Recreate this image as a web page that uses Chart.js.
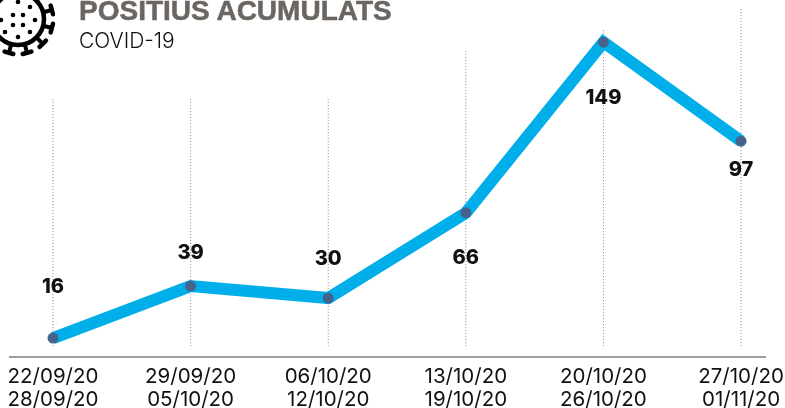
<!DOCTYPE html>
<html>
<head>
<meta charset="utf-8">
<script src="https://cdn.jsdelivr.net/npm/chart.js@4"></script>
<style>
    body { margin: 0; background: #fff; overflow: hidden; }
    #wrap { position: relative; width: 785px; height: 408px; overflow: hidden; }
    canvas { position: absolute; left: 0; top: 0; }
    #title { position: absolute; left: 79px; top: -5px; font: 700 28px "Liberation Sans", sans-serif; color: #6b6661; -webkit-text-stroke: 0.5px #6b6661; white-space: nowrap; }
    #subtitle { position: absolute; left: 79px; top: 28px; font: 300 21px Inter, sans-serif; color: #111; white-space: nowrap; }
    #virus { position: absolute; left: 0; top: 0; }
</style>
</head>
<body>
<div id="wrap">
    <canvas id="chart" width="785" height="408"></canvas>
    <svg id="virus" width="60" height="62" viewBox="0 0 60 62"></svg>
    <div id="title">POSITIUS ACUMULATS</div>
    <div id="subtitle">COVID-19</div>
</div>
<script>
const dateRanges = [
    ["22/09/20", "28/09/20"],
    ["29/09/20", "05/10/20"],
    ["06/10/20", "12/10/20"],
    ["13/10/20", "19/10/20"],
    ["20/10/20", "26/10/20"],
    ["27/10/20", "01/11/20"]
];
// numbers printed on the chart
const printedValues = [16, 39, 30, 66, 149, 97];
// height of each point as drawn in the picture, the original line does not quite follow its own labels
const drawnValues = [16, 39.4, 34, 72.3, 149, 104.5];
// where each dotted guide stops at the top
const guideTops = [123.8, 123.8, 123.8, 145.8, 154.8, 164.7];
const guideBase = 12.4;

const labelOffsets = [-52, -34, -40, 44, 55, 28];

const valueLabels = {
    id: 'valueLabels',
    afterDatasetsDraw(chart) {
        const ctx = chart.ctx;
        const points = chart.getDatasetMeta(0).data;
        ctx.save();
        ctx.font = '800 20px Inter, sans-serif';
        ctx.fillStyle = '#111';
        ctx.textAlign = 'center';
        ctx.textBaseline = 'middle';
        points.forEach((p, i) => {
            ctx.fillText(printedValues[i], p.x, p.y + labelOffsets[i] + 1);
        });
        ctx.restore();
    }
};

const guides = guideTops.map((top, i) => ({
    data: [{ x: i, y: guideBase }, { x: i, y: top }],
    borderColor: '#8c8c8c',
    borderWidth: 1,
    borderDash: [1, 2],
    pointRadius: 0,
    order: 1
}));

new Chart(document.getElementById('chart').getContext('2d'), {
    type: 'line',
    data: {
        datasets: [
            {
                data: drawnValues.map((v, i) => ({ x: i, y: v })),
                borderColor: '#00aeea',
                borderWidth: 12,
                pointRadius: 5.5,
                pointBackgroundColor: '#44648c',
                pointBorderWidth: 0,
                order: 0
            },
            ...guides
        ]
    },
    options: {
        responsive: false,
        animation: false,
        layout: { padding: { left: 10, right: 20, top: 0, bottom: 0 } },
        plugins: { legend: { display: false }, tooltip: { enabled: false } },
        scales: {
            x: {
                type: 'linear',
                min: -0.3125,
                max: 5.174,
                afterBuildTicks(scale) {
                    scale.ticks = dateRanges.map((d, i) => ({ value: i }));
                },
                afterFit(scale) {
                    scale.height = 51;
                },
                grid: { display: false },
                border: { display: true, color: '#a09c97', width: 2 },
                ticks: {
                    autoSkip: false,
                    maxRotation: 0,
                    padding: 0,
                    color: '#111',
                    font: { family: 'Inter', size: 20.5, lineHeight: 1.12 },
                    callback: (value) => dateRanges[value]
                }
            },
            y: { display: false, min: 7.5, max: 165.5 }
        }
    },
    plugins: [valueLabels]
});

// virus icon
const svg = document.getElementById('virus');
let icon = '<circle cx="18" cy="19" r="26" fill="none" stroke="#000" stroke-width="4.5"/>';
[-75, -45, -15, 15, 45, 75, 105, 135].forEach(a => {
    icon += `<g transform="rotate(${a} 18 19)"><line x1="44" y1="19" x2="52" y2="19" stroke="#000" stroke-width="4"/><line x1="53" y1="14.5" x2="53" y2="23.5" stroke="#000" stroke-width="4.5" stroke-linecap="round"/></g>`;
});
[[18,2],[30,7],[13,15],[23,15],[35,20],[1,20],[13,25],[23,25],[5,32],[30,32],[18,37]].forEach(d => {
    icon += `<circle cx="${d[0]}" cy="${d[1]}" r="2.3" fill="#000"/>`;
});
svg.innerHTML = icon;
</script>
</body>
</html>
